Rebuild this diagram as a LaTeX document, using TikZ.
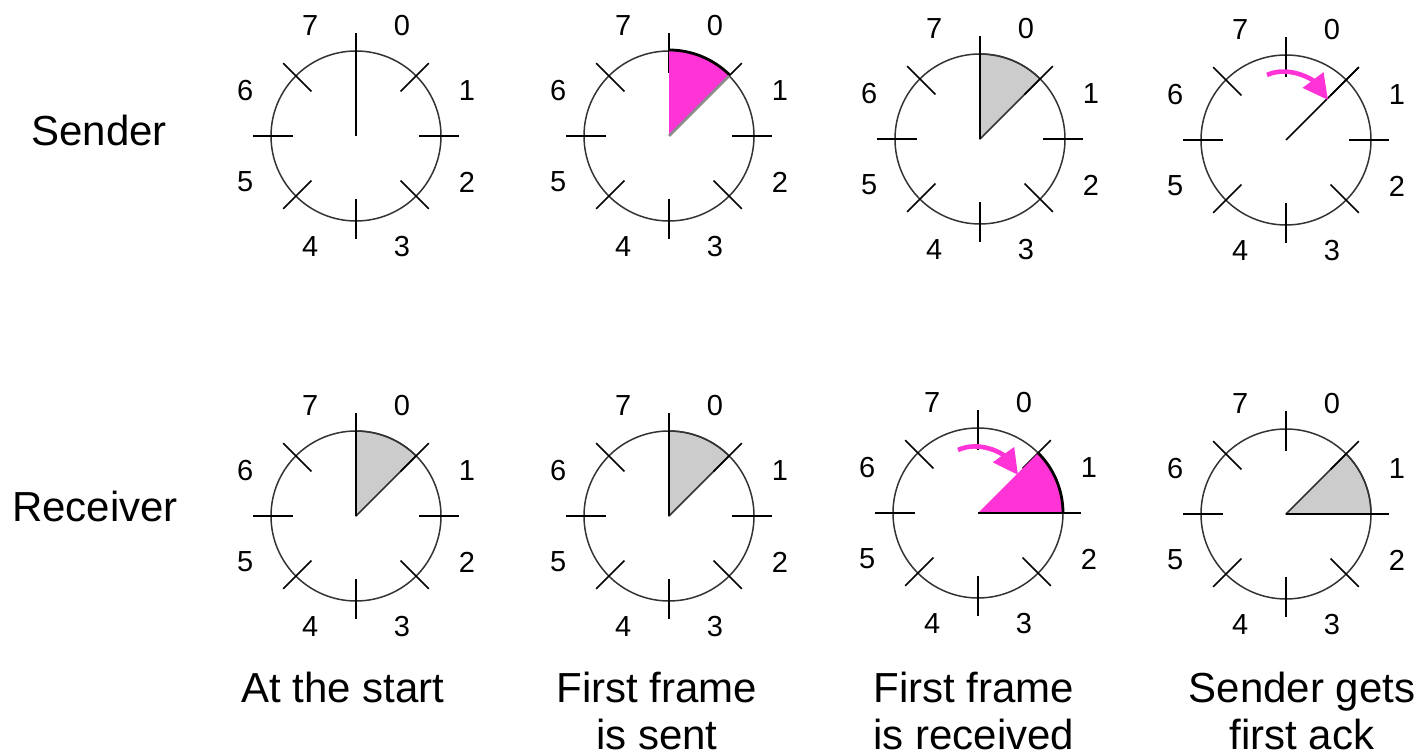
\documentclass[tikz,border=0pt]{standalone}
\usepackage{fontspec}
\setmainfont{Liberation Sans}
\usetikzlibrary{calc, arrows.meta}

\definecolor{windowpink}{RGB}{255,51,214}
\definecolor{windowgray}{RGB}{204,204,204}

\begin{document}
\begin{tikzpicture}[x=0.5pt, y=0.5pt, line join=round,
  dialrim/.style={line width=0.75pt, draw=black!80},
  dialtick/.style={line width=0.75pt, draw=black},
  seqnum/.style={font=\fontsize{14.5}{17}\selectfont, inner sep=0pt},
  rowlabel/.style={font=\fontsize{21}{24}\selectfont, inner sep=0pt, anchor=base},
  caption/.style={font=\fontsize{21}{23.5}\selectfont, inner sep=0pt, align=center, anchor=base},
  slidearrow/.style={windowpink, line width=2.3pt, -{Triangle[length=12.5pt, width=12.5pt]}}]
\useasboundingbox (0,0) rectangle (1424,754);
\def\dialradius{85}
\def\tickin{63}
\def\tickout{103}
\def\numradius{120}

% Dial centres, sender row then receiver row
\coordinate (S1) at (356,618);
\coordinate (S2) at (669,618);
\coordinate (S3) at (980,615);
\coordinate (S4) at (1286,614);
\coordinate (R1) at (356,238);
\coordinate (R2) at (669,238);
\coordinate (R3) at (978,241);
\coordinate (R4) at (1286,240);

% Window sectors in grey
\foreach \dial/\from/\to in {S3/90/45, R1/90/45, R2/90/45, R4/45/0}
  \filldraw[dialrim, fill=windowgray] (\dial) -- ($(\dial)+(\from:\dialradius)$) arc (\from:\to:\dialradius) -- cycle;

% Rims, tick marks and sequence numbers
\foreach \dial in {S1,S2,S3,S4,R1,R2,R3,R4} {
  \draw[dialrim] (\dial) circle (\dialradius);
  \foreach \angle in {0,45,...,315}
    \draw[dialtick] ($(\dial)+(\angle:\tickin)$) -- ($(\dial)+(\angle:\tickout)$);
  \foreach \seq in {0,...,7}
    \node[seqnum] (\dial-n\seq) at ($(\dial)+({67.5-45*\seq}:\numradius)$) {\seq};
}

% Window sectors in magenta
\fill[windowpink] (S2) -- ($(S2)+(90:\dialradius+1)$) arc (90:45:\dialradius+1) -- cycle;
\draw[line width=1.4pt] ($(S2)+(90:\dialradius+1)$) arc (90:45:\dialradius+1);
\draw[black!45, line width=1.3pt] (S2) -- ($(S2)+(45:\dialradius)$);
\fill[windowpink] (R3) -- ($(R3)+(45:\dialradius)$) arc (45:0:\dialradius) -- cycle;
\draw[line width=1.4pt] ($(R3)+(45:\dialradius)$) arc (45:0:\dialradius);

% Pointers
\foreach \dial/\angle in {S1/90, S3/90, S4/45, R1/90, R2/90, R3/0, R4/0}
  \draw[dialtick] (\dial) -- ($(\dial)+(\angle:\tickout)$);

% Sliding arrows
\draw[slidearrow] ($(S4)+(-19,65)$) .. controls ($(S4)+(3,75)$) and ($(S4)+(27,60)$) .. ($(S4)+(42,40)$);
\draw[slidearrow] ($(R3)+(-20,63)$) .. controls ($(R3)+(2,73)$) and ($(R3)+(25,59)$) .. ($(R3)+(40,38)$);

% Row names
\node[rowlabel] (sender) at (99,608) {Sender};
\node[rowlabel] (receiver) at (95,232) {Receiver};

% Captions under the columns (base is the last line)
\node[caption] (start) at (343,51) {At the start};
\node[caption] (sent) at (657,4) {First frame\\is sent};
\node[caption] (received) at (974,4) {First frame\\is received};
\node[caption] (ack) at (1302,4) {Sender gets\\first ack};
\end{tikzpicture}
\end{document}
